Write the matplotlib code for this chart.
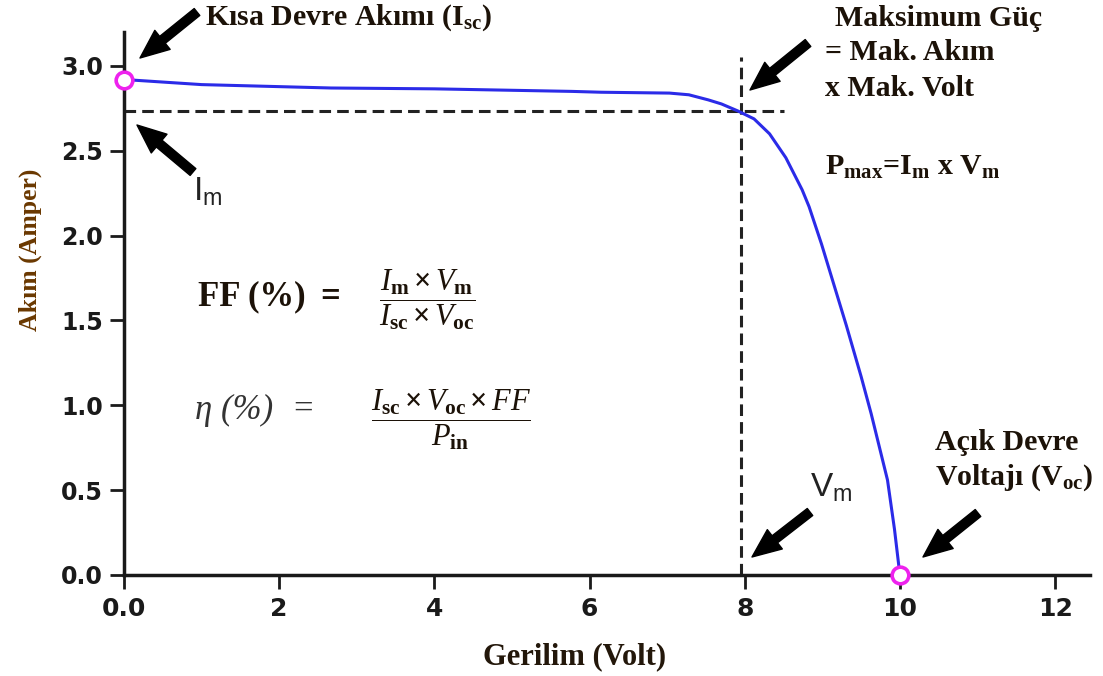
import matplotlib
matplotlib.use("Agg")
import matplotlib.pyplot as plt

# ---- data ----
volt = [0.0, 1.0, 2.67, 4.0, 5.77, 6.15, 7.03, 7.28, 7.53, 7.70, 7.91, 8.12,
        8.32, 8.53, 8.74, 8.83, 8.99, 9.31, 9.5, 9.63, 9.84, 9.93, 10.0]
amp = [2.92, 2.89, 2.87, 2.865, 2.85, 2.845, 2.84, 2.83, 2.80, 2.776, 2.735, 2.688,
       2.60, 2.459, 2.27, 2.17, 1.95, 1.47, 1.17, 0.95, 0.56, 0.27, 0.0]
v_m, i_m = 7.95, 2.735
i_sc, v_oc = 2.92, 10.0
x_ticks = [0, 2, 4, 6, 8, 10, 12]
x_ticklabels = ["0.0", "2", "4", "6", "8", "10", "12"]
y_ticks = [0.0, 0.5, 1.0, 1.5, 2.0, 2.5, 3.0]
y_ticklabels = ["0.0", "0.5", "1.0", "1.5", "2.0", "2.5", "3.0"]

plt.rcParams["mathtext.fontset"] = "custom"
plt.rcParams["mathtext.rm"] = "Liberation Serif:bold"
plt.rcParams["mathtext.it"] = "Liberation Serif:italic"
plt.rcParams["mathtext.bf"] = "Liberation Serif:bold"
plt.rcParams["mathtext.sf"] = "Liberation Sans"

W, H = 1103, 676
fig = plt.figure(figsize=(W / 100, H / 100), dpi=100)
ax = fig.add_axes([124 / W, 1 - 575 / H, (1090 - 124) / W, (575 - 32) / H])

ax.plot(volt, amp, color="#2b2be8", lw=2.2, zorder=3)
ax.plot([0, v_m + 0.55], [i_m, i_m], ls=(0, (3.8, 2.0)), color="#222222", lw=2.2, zorder=2)
ax.plot([v_m, v_m], [0, 3.05], ls=(0, (3.8, 2.0)), color="#222222", lw=2.2, zorder=2)
ax.plot([0, v_oc], [i_sc, 0], ls="none", marker="o", ms=12, mfc="white",
        mec="#ee22ee", mew=2.6, zorder=5, clip_on=False)

ax.set_xlim(0, 12.45)
ax.set_ylim(0, 3.2)
for s in ["top", "right"]:
    ax.spines[s].set_visible(False)
for s in ["left", "bottom"]:
    ax.spines[s].set_linewidth(2.5)
    ax.spines[s].set_color("#1a1a1a")
ax.set_xticks(x_ticks)
ax.set_xticklabels(x_ticklabels, fontsize=18, fontweight="bold", family="DejaVu Sans")
ax.set_yticks(y_ticks)
ax.set_yticklabels(y_ticklabels, fontsize=17, fontweight="bold", family="DejaVu Sans")
ax.tick_params(axis="both", direction="out", length=10, width=2, color="#1a1a1a",
               labelcolor="#1a1a1a")
ax.tick_params(axis="x", pad=6)
ax.tick_params(axis="y", pad=5)


def ftxt(x, y, s, **kw):
    base = dict(fontsize=21.5, fontweight="bold", family="Liberation Serif",
                color="#1c1208", va="center", ha="left")
    base.update(kw)
    fig.text(x / W, 1 - y / H, s, **base)


def arrow(tail, head):
    ax.annotate("", xy=(head[0] / W, 1 - head[1] / H), xycoords="figure fraction",
                xytext=(tail[0] / W, 1 - tail[1] / H), textcoords="figure fraction",
                arrowprops=dict(arrowstyle="simple,head_length=1.3,head_width=1.1,tail_width=0.4",
                                color="black", mutation_scale=16, shrinkA=0, shrinkB=0),
                annotation_clip=False)


# axis titles
ftxt(575, 657, "Gerilim (Volt)", fontsize=22, ha="center", color="#23170a")
ftxt(30, 250, "Akım (Amper)", fontsize=18.5, ha="center", rotation=90, color="#6a3800")

ftxt(205, 18, r"Kısa Devre Akımı (I$_{\mathrm{sc}}$)")
ftxt(835, 18, "Maksimum Güç")
ftxt(825, 53, "= Mak. Akım")
ftxt(825, 88, "x Mak. Volt")
ftxt(825, 167, r"P$_{\mathrm{max}}$=I$_{\mathrm{m}}$ x V$_{\mathrm{m}}$")
ftxt(935, 442, "Açık Devre")
ftxt(935, 478, r"Voltajı (V$_{\mathrm{oc}}$)")

ftxt(193, 192, r"$\mathsf{I_{m}}$", fontsize=24, fontweight="normal", color="#222222")
ftxt(810, 488, r"$\mathsf{V_{m}}$", fontsize=24, fontweight="normal", color="#222222")

ftxt(198, 297, "FF (%)", fontsize=25)
ftxt(320, 297, "=", fontsize=25)
ftxt(427, 300, r"$\dfrac{I_{\mathrm{m}}\times V_{\mathrm{m}}}{I_{\mathrm{sc}}\times V_{\mathrm{oc}}}$",
     fontsize=22, ha="center", fontweight="normal")
ftxt(195, 410, "η (%)", fontsize=25, fontweight="normal", style="italic", color="#333333")
ftxt(293, 410, "=", fontsize=25, fontweight="normal", color="#333333")
ftxt(451, 420, r"$\dfrac{I_{\mathrm{sc}}\times V_{\mathrm{oc}}\times FF}{P_{\mathrm{in}}}$",
     fontsize=22, ha="center", fontweight="normal")

arrow((197, 12), (140, 58))
arrow((193, 172), (137, 125))
arrow((808, 43), (750, 90))
arrow((810, 512), (752, 557))
arrow((978, 513), (923, 557))

fig.savefig("out.png", dpi=100)
